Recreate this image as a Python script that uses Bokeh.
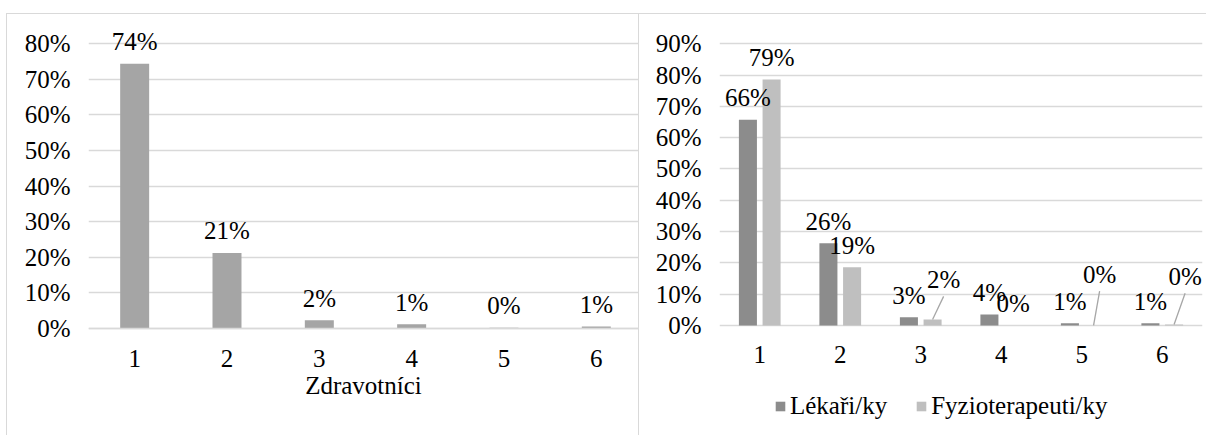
import numpy as np
from bokeh.plotting import figure
from bokeh.layouts import row, column
from bokeh.models import (Range1d, FixedTicker, NumeralTickFormatter, ColumnDataSource,
                          Legend, LegendItem, Spacer, Div)
from bokeh.core.properties import value
from bokeh.embed import file_html
from bokeh.resources import INLINE

# ---------------- data ----------------
categories = [1, 2, 3, 4, 5, 6]
zdravotnici = [0.743, 0.212, 0.023, 0.012, 0.002, 0.006]
lekari = [0.657, 0.263, 0.026, 0.035, 0.007, 0.007]
fyzio = [0.786, 0.186, 0.019, 0.0, 0.0, 0.003]
left_ticks = [0.0, 0.1, 0.2, 0.3, 0.4, 0.5, 0.6, 0.7, 0.8]
right_ticks = [0.0, 0.1, 0.2, 0.3, 0.4, 0.5, 0.6, 0.7, 0.8, 0.9]
left_title = "Zdravotníci"
series_names = ["Lékaři/ky", "Fyzioterapeuti/ky"]

# label adjustments (manually moved labels with leader lines)
fy_label_dx = [0, 0, 0.137, 0, 0.075, 0.137]
fy_label_rise = [0, 0, 0.074, 0, 0.110, 0.100]

# ---------------- style ----------------
FONT = "Liberation Serif"
FS = "25px"
TXT = "#000000"
GRID = "#d9d9d9"
C_LEFT = "#a5a5a5"
C_DARK = "#8c8c8c"
C_LIGHT = "#bfbfbf"
LBL_OFF = -22


def pct(v):
    return f"{int(round(v * 100))}%"


def style_axes(p, yticks):
    p.outline_line_color = None
    p.xgrid.visible = False
    p.ygrid.ticker = FixedTicker(ticks=yticks)
    p.ygrid.grid_line_color = GRID
    p.ygrid.grid_line_width = 1.5
    p.yaxis.ticker = FixedTicker(ticks=yticks)
    p.yaxis.formatter = NumeralTickFormatter(format="0%")
    p.xaxis.ticker = FixedTicker(ticks=categories)
    p.xaxis.fixed_location = 0
    for ax in (p.xaxis[0], p.yaxis[0]):
        ax.major_tick_line_color = None
        ax.minor_tick_line_color = None
        ax.major_label_text_font = FONT
        ax.major_label_text_font_size = FS
        ax.major_label_text_color = TXT
    p.yaxis.axis_line_color = None
    p.yaxis.major_label_standoff = 12
    p.xaxis.major_label_standoff = 15


# ---------------- left chart ----------------
p1 = figure(width=631, height=421, x_range=Range1d(0.5, 6.457), y_range=Range1d(-0.2919, 0.845),
            output_backend="svg", toolbar_location=None,
            min_border_left=81, min_border_right=0, min_border_top=13, min_border_bottom=3)
style_axes(p1, left_ticks)
p1.xaxis.axis_line_color = GRID
p1.xaxis.axis_line_width = 1.5
p1.xaxis.axis_label = left_title
p1.xaxis.axis_label_text_font = FONT
p1.xaxis.axis_label_text_font_size = FS
p1.xaxis.axis_label_text_font_style = "normal"
p1.xaxis.axis_label_text_color = TXT
p1.xaxis.axis_label_standoff = 2

src1 = ColumnDataSource(dict(x=categories, v=zdravotnici, lbl=[pct(v) for v in zdravotnici]))
p1.vbar(x="x", top="v", width=0.314, source=src1, fill_color=C_LEFT, line_color=None)
p1.text(x="x", y="v", text="lbl", source=src1, text_align="center", text_baseline="alphabetic",
        y_offset=LBL_OFF, text_font=value(FONT), text_font_size=FS, text_color=TXT)

# ---------------- right chart ----------------
p2 = figure(width=567, height=421, x_range=Range1d(0.5, 6.5), y_range=Range1d(-0.3419, 0.952),
            output_backend="svg", toolbar_location=None,
            min_border_left=80, min_border_right=4, min_border_top=13, min_border_bottom=3)
style_axes(p2, right_ticks)
p2.xaxis.axis_line_color = None

off = 0.147
bw = 0.224
xc = np.array(categories, dtype=float)
src_l = ColumnDataSource(dict(x=xc - off, v=lekari, lbl=[pct(v) for v in lekari]))
src_f = ColumnDataSource(dict(x=xc + off, v=fyzio, lbl=[pct(v) for v in fyzio]))
r_l = p2.vbar(x="x", top="v", width=bw, source=src_l, fill_color=C_DARK, line_color=None)
r_f = p2.vbar(x="x", top="v", width=bw, source=src_f, fill_color=C_LIGHT, line_color=None)

p2.text(x="x", y="v", text="lbl", source=src_l, text_align="center", text_baseline="alphabetic",
        y_offset=LBL_OFF, text_font=value(FONT), text_font_size=FS, text_color=TXT)

normal = [i for i in range(len(categories)) if fy_label_rise[i] == 0]
moved = [i for i in range(len(categories)) if fy_label_rise[i] != 0]
src_fn = ColumnDataSource(dict(x=[xc[i] + off for i in normal], v=[fyzio[i] for i in normal],
                               lbl=[pct(fyzio[i]) for i in normal]))
p2.text(x="x", y="v", text="lbl", source=src_fn, text_align="center", text_baseline="alphabetic",
        y_offset=LBL_OFF, text_font=value(FONT), text_font_size=FS, text_color=TXT)
src_fm = ColumnDataSource(dict(
    x0=[xc[i] + off for i in moved], y0=[fyzio[i] for i in moved],
    x1=[xc[i] + off + fy_label_dx[i] for i in moved],
    y1=[fyzio[i] + fy_label_rise[i] for i in moved],
    lbl=[pct(fyzio[i]) for i in moved]))
p2.segment(x0="x0", y0="y0", x1="x1", y1="y1", source=src_fm, line_color="#a6a6a6", line_width=1.3)
p2.text(x="x1", y="y1", text="lbl", source=src_fm, text_align="center", text_baseline="alphabetic",
        y_offset=-17, text_font=value(FONT), text_font_size=FS, text_color=TXT)

legend = Legend(items=[LegendItem(label=value(series_names[0]), renderers=[r_l]),
                       LegendItem(label=value(series_names[1]), renderers=[r_f])],
                orientation="horizontal", location=(55, 12))
legend.label_text_font = FONT
legend.label_text_font_size = FS
legend.label_text_color = TXT
legend.glyph_width = 12
legend.glyph_height = 12
legend.label_standoff = 4
legend.spacing = 28
legend.padding = 0
legend.margin = 0
legend.border_line_color = None
legend.background_fill_alpha = 0
p2.add_layout(legend, "center")

# ---------------- page layout with light-gray chart borders ----------------
bg = {"background-color": GRID}
top_line = row(Spacer(width=6, height=1, margin=0), Div(width=1200, height=1, margin=0, styles=bg),
               spacing=0)
charts = row(Spacer(width=6, height=421, margin=0),
             Div(width=1, height=421, margin=0, styles=bg), p1,
             Div(width=1, height=421, margin=0, styles=bg), p2, spacing=0)
layout = column(Spacer(width=1206, height=13, margin=0), top_line, charts, spacing=0)

open("out.html", "w").write(file_html(layout, INLINE))
